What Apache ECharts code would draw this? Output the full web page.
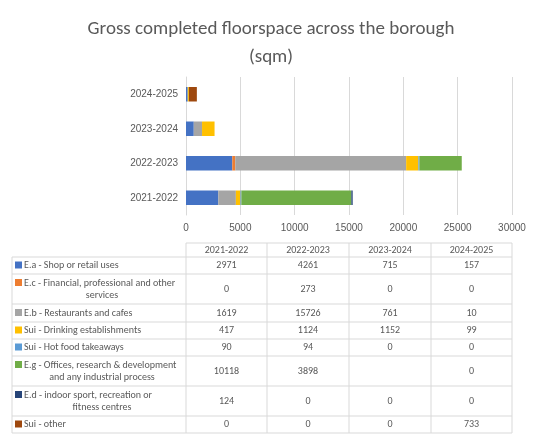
<!DOCTYPE html>
<html><head><meta charset="utf-8">
<script src="https://cdn.jsdelivr.net/npm/echarts@6/dist/echarts.min.js"></script>
<style>html,body{margin:0;background:#fff}#c{width:542px;height:444px}</style>
</head><body><div id="c"></div>
<script>
// 年份
var years = ['2021-2022', '2022-2023', '2023-2024', '2024-2025'];
// 各用途名称
var seriesNames = [
	'E.a - Shop or retail uses',
	'E.c - Financial, professional and other services',
	'E.b - Restaurants and cafes',
	'Sui - Drinking establishments',
	'Sui - Hot food takeaways',
	'E.g - Offices, research & development and any industrial process',
	'E.d - indoor sport, recreation or fitness centres',
	'Sui - other'
];
// 表格中显示的名称（换行）
var tableLabels = [
	['E.a - Shop or retail uses'],
	['E.c - Financial, professional and other', 'services'],
	['E.b - Restaurants and cafes'],
	['Sui - Drinking establishments'],
	['Sui - Hot food takeaways'],
	['E.g - Offices, research & development', 'and any industrial process'],
	['E.d - indoor sport, recreation or', 'fitness centres'],
	['Sui - other']
];
var shopRetail = [2971, 4261, 715, 157];
var financial = [0, 273, 0, 0];
var restaurants = [1619, 15726, 761, 10];
var drinking = [417, 1124, 1152, 99];
var hotFood = [90, 94, 0, 0];
var offices = [10118, 3898, null, 0];
var indoorSport = [124, 0, 0, 0];
var suiOther = [0, 0, 0, 733];
var allData = [shopRetail, financial, restaurants, drinking, hotFood, offices, indoorSport, suiOther];
var colors = ['#4472C4', '#ED7D31', '#A5A5A5', '#FFC000', '#5B9BD5', '#70AD47', '#264478', '#9E480E'];

(function () {
	var series = [];
	for (var i = 0; i < allData.length; i++) {
		series.push({
			name: seriesNames[i],
			type: 'bar',
			stack: 'total',
			barWidth: '42%',
			itemStyle: { color: colors[i] },
			data: allData[i]
		});
	}

	// 表格 用 graphic 画
	var colX = [186, 267, 349, 431, 512];
	var rowY = [257, 274, 304, 322, 339, 356, 386, 416, 433];
	var lineColor = '#D9D9D9', txt = '#595959', fnt = '10px Calibri, Carlito, "Liberation Sans", sans-serif';
	var g = [];
	function line(x1, y1, x2, y2) {
		g.push({ type: 'line', shape: { x1: x1, y1: y1, x2: x2, y2: y2 }, style: { stroke: lineColor, lineWidth: 1 } });
	}
	function text(x, y, s, align) {
		g.push({ type: 'text', x: x, y: y, style: { text: s, fill: txt, font: fnt, align: align || 'center', verticalAlign: 'middle' } });
	}
	line(186, 243, 512, 243);
	for (var c = 0; c < colX.length; c++) line(colX[c], 243, colX[c], 433);
	line(12, 257, 12, 433);
	for (var r = 0; r < rowY.length; r++) line(12, rowY[r], 512, rowY[r]);
	for (var j = 0; j < years.length; j++) text((colX[j] + colX[j + 1]) / 2, 250, years[j]);
	for (var k = 0; k < tableLabels.length; k++) {
		var mid = (rowY[k] + rowY[k + 1]) / 2;
		var lab = tableLabels[k];
		if (lab.length == 1) {
			g.push({ type: 'rect', shape: { x: 15, y: mid - 4, width: 7, height: 7 }, style: { fill: colors[k] } });
			text(24, mid, lab[0], 'left');
		} else {
			g.push({ type: 'rect', shape: { x: 15, y: mid - 10, width: 7, height: 7 }, style: { fill: colors[k] } });
			text(24, mid - 6, lab[0], 'left');
			text(102, mid + 6, lab[1]);
		}
		for (var j2 = 0; j2 < years.length; j2++) {
			var v = allData[k][j2];
			if (v !== null) text((colX[j2] + colX[j2 + 1]) / 2, mid, String(v));
		}
	}

	var chart = echarts.init(document.getElementById('c'));
	chart.setOption({
		animation: false,
		title: {
			text: 'Gross completed floorspace across the borough\n(sqm)',
			left: 'center',
			top: 10,
			textStyle: { fontSize: 19, fontWeight: 'normal', color: '#595959', lineHeight: 28, fontFamily: 'Calibri, Carlito, "Liberation Sans", sans-serif' }
		},
		grid: { left: 186, right: 30, top: 77, bottom: 229 },
		xAxis: {
			type: 'value', min: 0, max: 30000, interval: 5000,
			axisLabel: { color: '#595959', fontSize: 10, formatter: function (v) { return String(v); } },
			splitLine: { lineStyle: { color: '#D9D9D9' } },
			axisLine: { show: false }, axisTick: { show: false }
		},
		yAxis: {
			type: 'category', data: years,
			axisLabel: { color: '#595959', fontSize: 10, margin: 8 },
			axisLine: { lineStyle: { color: '#D9D9D9' } },
			axisTick: { show: false }
		},
		series: series,
		graphic: g
	});
})();
</script></body></html>
